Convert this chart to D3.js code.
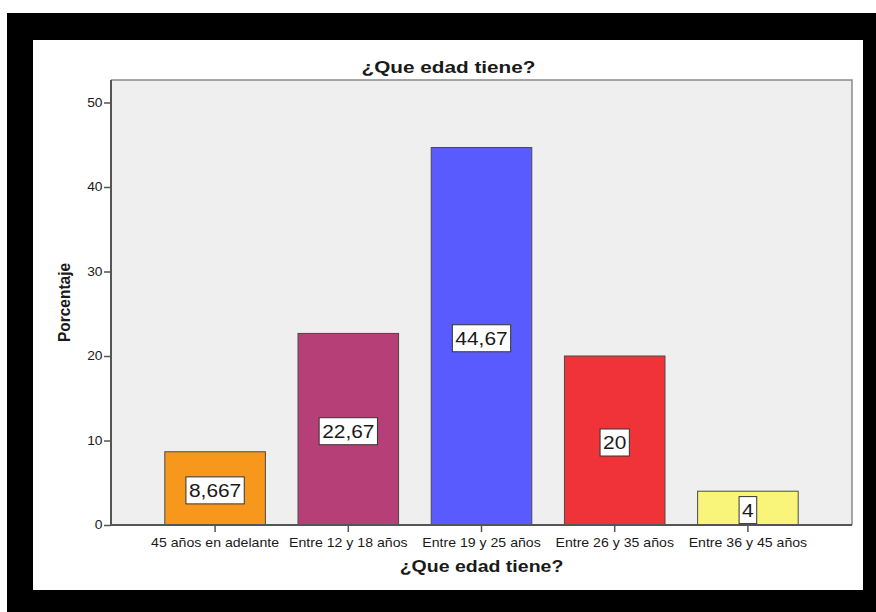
<!DOCTYPE html>
<html>
<head>
<meta charset="utf-8">
<script src="https://cdn.jsdelivr.net/npm/d3@7"></script>
<style>
  html, body { margin: 0; padding: 0; background: #ffffff; }
  svg { display: block; }
  text { font-family: "Liberation Sans", Arial, sans-serif; fill: #1a1a1a; }
</style>
</head>
<body>
<svg id="chart" width="876" height="612"></svg>
<script>
// Age groups and their share of respondents (%)
const categories = ["45 años en adelante", "Entre 12 y 18 años", "Entre 19 y 25 años", "Entre 26 y 35 años", "Entre 36 y 45 años"];
const percentages = [8.667, 22.67, 44.67, 20, 4];
const valueLabels = ["8,667", "22,67", "44,67", "20", "4"];
const barColors = ["#f7981d", "#b73f78", "#5a5bff", "#f03239", "#f9f57b"];
const yTicks = [0, 10, 20, 30, 40, 50];
const chartTitle = "¿Que edad tiene?";
const xTitle = "¿Que edad tiene?";
const yTitle = "Porcentaje";

const svg = d3.select("#chart");

// Outer frame: black border around a white panel
svg.append("rect").attr("x", 7).attr("y", 13).attr("width", 869).attr("height", 599).attr("fill", "#000");
svg.append("rect").attr("x", 33).attr("y", 40).attr("width", 830).attr("height", 550).attr("fill", "#fff");

// Plot region
const plot = { left: 111, right: 852, top: 80, bottom: 525 };

const x = d3.scaleBand()
  .domain(categories)
  .range([plot.left, plot.right])
  .paddingInner(0.245)
  .paddingOuter(0.404);

const y = d3.scaleLinear()
  .domain([0, 50])
  .range([plot.bottom, 102.5]);

// Grey plotting background with its frame
svg.append("rect")
  .attr("x", plot.left).attr("y", plot.top)
  .attr("width", plot.right - plot.left).attr("height", plot.bottom - plot.top)
  .attr("fill", "#efefef");
svg.append("path")
  .attr("d", `M${plot.left},${plot.top}H${plot.right}V${plot.bottom}`)
  .attr("fill", "none").attr("stroke", "#8a8a8a").attr("stroke-width", 1.5);

// Bars
svg.append("g").selectAll("rect")
  .data(percentages)
  .join("rect")
  .attr("x", (d, i) => x(categories[i]))
  .attr("y", d => y(d))
  .attr("width", x.bandwidth())
  .attr("height", d => y(0) - y(d))
  .attr("fill", (d, i) => barColors[i])
  .attr("stroke", "#4a4a4a")
  .attr("stroke-width", 1);

// Y axis
const yAxis = svg.append("g")
  .attr("transform", `translate(${plot.left},0)`)
  .call(d3.axisLeft(y).tickValues(yTicks).tickSize(7).tickPadding(3).tickFormat(d3.format("d")));
yAxis.select(".domain").attr("d", `M0,${plot.top}V${plot.bottom}`).attr("stroke", "#555").attr("stroke-width", 2);
yAxis.selectAll(".tick line").attr("stroke", "#555").attr("stroke-width", 1.5);
yAxis.selectAll(".tick text")
  .attr("font-size", 12).attr("fill", "#1a1a1a")
  .attr("font-family", "Liberation Sans, Arial, sans-serif")
  .attr("transform", "scale(1.15,1)")
  .attr("x", -8.5 / 1.15);

// X axis
const xAxis = svg.append("g")
  .attr("transform", `translate(0,${plot.bottom})`)
  .call(d3.axisBottom(x).tickSize(7).tickPadding(6));
xAxis.select(".domain").attr("d", `M${plot.left},0H${plot.right}`).attr("stroke", "#555").attr("stroke-width", 2);
xAxis.selectAll(".tick line").attr("stroke", "#555").attr("stroke-width", 1.5);
xAxis.selectAll(".tick text")
  .attr("font-size", 12.5).attr("fill", "#1a1a1a")
  .attr("font-family", "Liberation Sans, Arial, sans-serif")
  .attr("transform", "scale(1.13,1)");

// Value labels in white boxes at mid-height of each bar
const labelScale = 1.1;
const labels = svg.append("g").selectAll("g")
  .data(percentages)
  .join("g")
  .attr("transform", (d, i) => `translate(${x(categories[i]) + x.bandwidth() / 2},${(y(d) + y(0)) / 2 + 2})`);
const boxes = labels.append("rect")
  .attr("fill", "#fff").attr("stroke", "#333").attr("stroke-width", 1);
const vtext = labels.append("text")
  .attr("text-anchor", "middle")
  .attr("font-size", 19)
  .attr("dy", "0.36em")
  .attr("transform", `scale(${labelScale},1)`)
  .text((d, i) => valueLabels[i]);
vtext.each(function (d, i) {
  const w = this.getComputedTextLength() * labelScale + 6;
  d3.select(boxes.nodes()[i])
    .attr("x", -w / 2).attr("y", -13.5)
    .attr("width", w).attr("height", 27);
});

// Titles
svg.append("text")
  .attr("transform", `translate(448.5,73) scale(1.22,1)`)
  .attr("text-anchor", "middle")
  .attr("font-size", 17).attr("font-weight", "bold")
  .text(chartTitle);

svg.append("text")
  .attr("transform", `translate(${(plot.left + plot.right) / 2},572) scale(1.22,1)`)
  .attr("text-anchor", "middle")
  .attr("font-size", 16).attr("font-weight", "bold")
  .text(xTitle);

svg.append("text")
  .attr("transform", `translate(70,${(plot.top + plot.bottom) / 2}) rotate(-90) scale(1,1.12)`)
  .attr("text-anchor", "middle")
  .attr("font-size", 15.5).attr("font-weight", "bold")
  .text(yTitle);
</script>
</body>
</html>
